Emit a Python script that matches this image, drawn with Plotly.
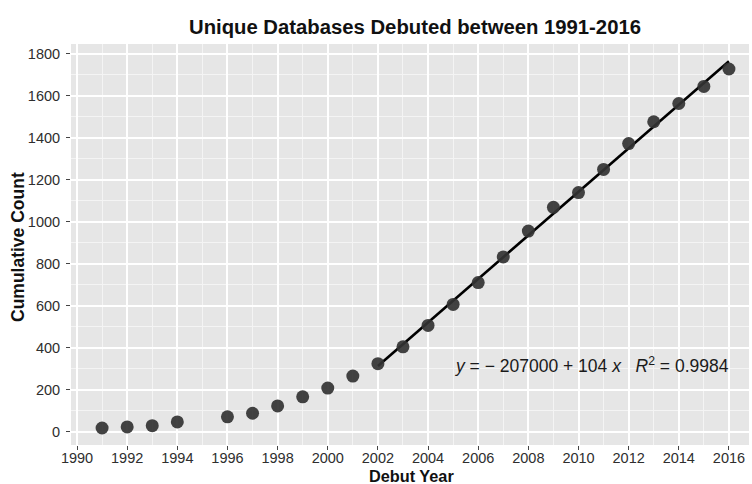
import numpy as np
import plotly.graph_objects as go

years = [1991, 1992, 1993, 1994, 1996, 1997, 1998, 1999, 2000, 2001, 2002, 2003, 2004,
         2005, 2006, 2007, 2008, 2009, 2010, 2011, 2012, 2013, 2014, 2015, 2016]
counts = [19, 24, 30, 48, 72, 89, 124, 167, 209, 266, 325, 405, 507,
          607, 711, 833, 956, 1069, 1139, 1249, 1372, 1476, 1563, 1644, 1727]
fit_start = 2002
title_text = "Unique Databases Debuted between 1991-2016"
x_title = "Debut Year"
y_title = "Cumulative Count"
eq_text = "<i>y</i> = \u2212 207000 + 104 <i>x</i>&nbsp;&nbsp;&nbsp;<i>R</i><sup>2</sup> = 0.9984"

fx = np.array([y for y in years if y >= fit_start], dtype=float)
fy = np.array([c for y, c in zip(years, counts) if y >= fit_start], dtype=float)
slope, intercept = np.polyfit(fx, fy, 1)
line_x = [fx.min(), fx.max()]
line_y = [intercept + slope * v for v in line_x]

FONT = "Liberation Sans, Arial, sans-serif"
W, H = 752, 484
L, R, T, B = 71, 3, 44, 39

fig = go.Figure()
fig.add_trace(go.Scatter(x=line_x, y=line_y, mode="lines",
                         line=dict(color="black", width=2.6), showlegend=False))
fig.add_trace(go.Scatter(x=years, y=counts, mode="markers",
                         marker=dict(size=13, color="#333333", opacity=0.92, line=dict(width=0)),
                         showlegend=False))

fig.add_annotation(x=2010.55, y=318, xref="x", yref="y", text=eq_text, showarrow=False,
                   font=dict(family=FONT, size=17.5, color="#1a1a1a"), xanchor="center", yanchor="middle")

# axis titles as paper annotations
fig.add_annotation(x=(411 - L) / (W - L - R), y=(H - B - 476) / (H - T - B), xref="paper", yref="paper",
                   text="<b>" + x_title + "</b>", showarrow=False, xanchor="center", yanchor="middle",
                   font=dict(family=FONT, size=16.3, color="#111111"))
fig.add_annotation(x=(18 - L) / (W - L - R), y=(H - B - 247) / (H - T - B), xref="paper", yref="paper",
                   text="<b>" + y_title + "</b>", showarrow=False, xanchor="center", yanchor="middle",
                   textangle=-90, font=dict(family=FONT, size=17.5, color="#111111"))

fig.update_layout(
    width=W, height=H,
    margin=dict(l=L, r=R, t=T, b=B),
    paper_bgcolor="white", plot_bgcolor="#E6E6E6",
    title=dict(text="<b>" + title_text + "</b>", x=415 / W, xanchor="center", y=1 - 27 / H, yanchor="middle",
               font=dict(family=FONT, size=20.3, color="#111111")),
    font=dict(family=FONT, color="#333333"),
)
fig.update_xaxes(
    range=[1989.76, 2016.8], tickmode="array", tickvals=list(range(1990, 2017, 2)),
    showgrid=True, gridcolor="white", gridwidth=1.5, zeroline=False,
    ticks="outside", ticklen=4, tickcolor="#444444", tickwidth=1,
    tickfont=dict(family=FONT, size=14.5, color="#2e2e2e"), ticklabelstandoff=-4,
    minor=dict(tickvals=list(range(1991, 2017, 2)), showgrid=True, gridcolor="#F4F4F4", gridwidth=0.7),
    automargin=False, showline=False,
)
fig.update_yaxes(
    range=[-62, 1846], tickmode="array", tickvals=list(range(0, 1801, 200)),
    showgrid=True, gridcolor="white", gridwidth=1.5, zeroline=False,
    ticks="outside", ticklen=4, tickcolor="#444444", tickwidth=1,
    tickfont=dict(family=FONT, size=14.5, color="#2e2e2e"), ticklabelstandoff=3,
    minor=dict(tickvals=list(range(100, 1801, 200)), showgrid=True, gridcolor="#F4F4F4", gridwidth=0.7),
    automargin=False, showline=False,
)

fig.write_html("out.html", config={"displayModeBar": False},
               post_script="document.body.style.margin='0px';document.body.style.overflow='hidden';")
